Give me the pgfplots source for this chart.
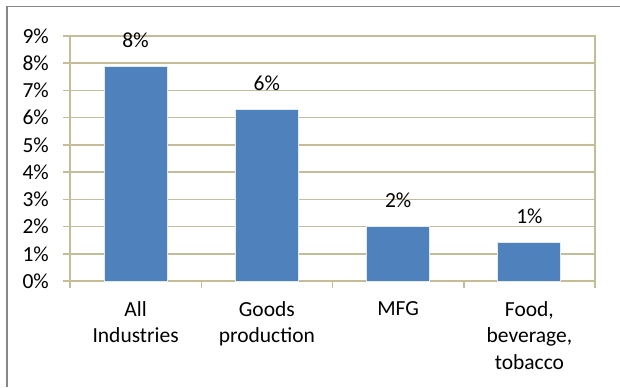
\documentclass[border=0pt]{standalone}
\usepackage{pgfplots}
\pgfplotsset{compat=1.18}
\usepackage{fontspec}
\setmainfont{Carlito}
\definecolor{barblue}{HTML}{4F81BD}
\definecolor{gridtan}{HTML}{C4BD97}
\definecolor{framegray}{HTML}{878787}
\definecolor{baredge}{HTML}{E4EAF2}
\begin{document}
\begin{tikzpicture}[x=1bp,y=1bp]
\useasboundingbox (0,0) rectangle (620,387);
\draw[framegray, line width=1.5bp] (7,0) -- (7,380.5) -- (620,380.5);
\begin{axis}[
  at={(70bp,106bp)}, anchor=south west,
  width=525bp, height=245bp, scale only axis,
  xmin=0, xmax=4, ymin=0, ymax=9,
  ybar, bar width=63bp,
  axis line style={draw=gridtan, line width=1.5bp},
  ymajorgrids, grid style={draw=gridtan, line width=1.5bp},
  tick style={draw=gridtan, line width=1.5bp},
  major tick length=7bp, tick align=outside,
  xtick pos=bottom, ytick pos=left,
  xtick={0,1,2,3,4},
  x tick label as interval,
  xticklabels={All\\Industries, Goods\\production, MFG, {Food,\\beverage,\\tobacco}},
  xticklabel style={align=center, font=\fontsize{21.5bp}{26.5bp}\selectfont, anchor=north, inner sep=0pt, yshift=-13bp},
  ytick={0,1,...,9},
  yticklabels={0\%,1\%,2\%,3\%,4\%,5\%,6\%,7\%,8\%,9\%},
  yticklabel style={font=\fontsize{21.5bp}{24bp}\selectfont, anchor=east, inner sep=0pt, xshift=-14bp},
  point meta=explicit symbolic,
  nodes near coords,
  nodes near coords style={font=\fontsize{21.5bp}{24bp}\selectfont, anchor=base, inner sep=0pt, yshift=19bp},
]
\addplot[fill=barblue, draw=baredge, line width=1bp] coordinates {
  (0.5,7.87) [8\%]
  (1.5,6.31) [6\%]
  (2.5,2.02) [2\%]
  (3.5,1.42) [1\%]
};
\end{axis}
\end{tikzpicture}
\end{document}
